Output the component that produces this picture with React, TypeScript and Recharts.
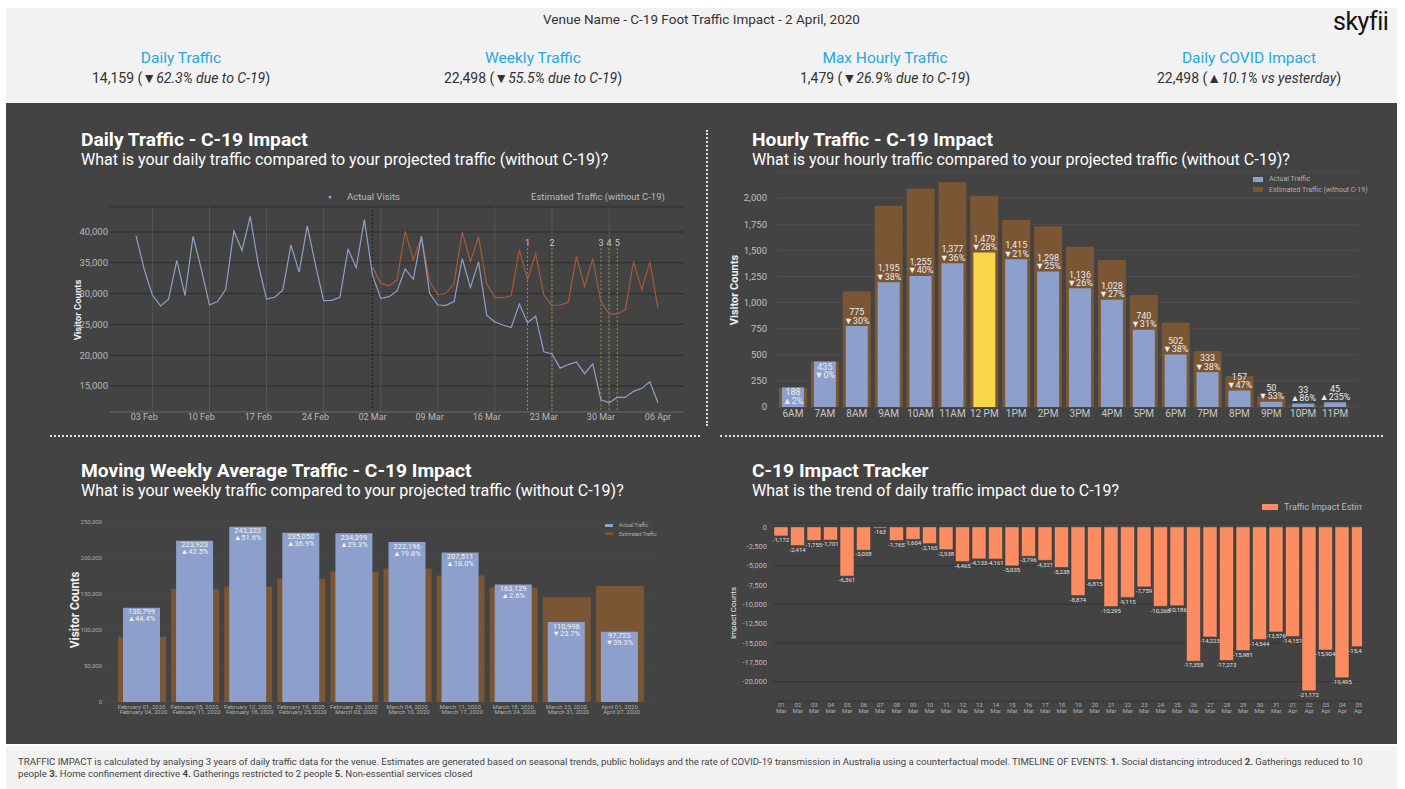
import { Bar, BarChart, CartesianGrid, Cell, LabelList, Legend, Line, LineChart, ReferenceLine, XAxis, YAxis } from "recharts"

// ---- daily traffic (line chart) ----
const days = [
  "02 Feb", "03 Feb", "04 Feb", "05 Feb", "06 Feb", "07 Feb", "08 Feb", "09 Feb", "10 Feb", "11 Feb",
  "12 Feb", "13 Feb", "14 Feb", "15 Feb", "16 Feb", "17 Feb", "18 Feb", "19 Feb", "20 Feb", "21 Feb",
  "22 Feb", "23 Feb", "24 Feb", "25 Feb", "26 Feb", "27 Feb", "28 Feb", "29 Feb", "01 Mar", "02 Mar",
  "03 Mar", "04 Mar", "05 Mar", "06 Mar", "07 Mar", "08 Mar", "09 Mar", "10 Mar", "11 Mar", "12 Mar",
  "13 Mar", "14 Mar", "15 Mar", "16 Mar", "17 Mar", "18 Mar", "19 Mar", "20 Mar", "21 Mar", "22 Mar",
  "23 Mar", "24 Mar", "25 Mar", "26 Mar", "27 Mar", "28 Mar", "29 Mar", "30 Mar", "31 Mar", "01 Apr",
  "02 Apr", "03 Apr", "04 Apr", "05 Apr", "06 Apr",
]
const actualVisits = [
  39400, 34000, 29800, 28000, 29100, 35400, 29700, 39300, 34000, 28150,
  28700, 30700, 40200, 37000, 42550, 34700, 29100, 29400, 30600, 37900,
  33500, 41000, 34700, 28850, 28900, 29400, 37200, 34200, 42000, 33000,
  29200, 29500, 30400, 34000, 32300, 39300, 30050, 28150, 28100, 28700,
  35700, 31000, 35150, 26500, 25400, 24900, 24500, 28300, 25270, 26360,
  20550, 20200, 17900, 18480, 18900, 17000, 18600, 12770, 12280, 13150,
  13150, 14130, 14620, 15700, 12280,
]
const estimatedVisits: (number | null)[] = [
  null, null, null, null, null, null, null, null, null, null,
  null, null, null, null, null, null, null, null, null, null,
  null, null, null, null, null, null, null, null, null, 34300,
  31700, 31250, 32200, 40100, 35500, 39200, 31950, 29800, 30050, 31600,
  40000, 35200, 39200, 31600, 29350, 29350, 29650, 37100, 32300, 36450,
  29800, 28050, 28150, 28600, 36050, 31150, 35700, 28700, 26700, 26700,
  27350, 35200, 30700, 35150, 27700,
]
const dailyTicks = ["03 Feb", "10 Feb", "17 Feb", "24 Feb", "02 Mar", "09 Mar", "16 Mar", "23 Mar", "30 Mar", "06 Apr"]
const dailyGridDays = ["04 Feb", "11 Feb", "18 Feb", "25 Feb", "03 Mar", "10 Mar", "17 Mar", "24 Mar", "31 Mar"]
const dailyYTicks = [15000, 20000, 25000, 30000, 35000, 40000]
const eventDays = ["21 Mar", "24 Mar", "30 Mar", "31 Mar", "01 Apr"]
const eventLabels = ["1", "2", "3", "4", "5"]

// ---- hourly traffic ----
const hours = ["6AM", "7AM", "8AM", "9AM", "10AM", "11AM", "12 PM", "1PM", "2PM", "3PM", "4PM", "5PM", "6PM", "7PM", "8PM", "9PM", "10PM", "11PM"]
const hourlyActual = [188, 435, 775, 1195, 1255, 1377, 1479, 1415, 1298, 1136, 1028, 740, 502, 333, 157, 50, 33, 45]
const hourlyEstimated = [184, 436, 1107, 1927, 2092, 2152, 2023, 1791, 1731, 1535, 1408, 1072, 810, 537, 296, 106, 18, 13]
const hourlyChange = ["▲2%", "▼0%", "▼30%", "▼38%", "▼40%", "▼36%", "▼28%", "▼21%", "▼25%", "▼26%", "▼27%", "▼31%", "▼38%", "▼38%", "▼47%", "▼53%", "▲86%", "▲235%"]
const hourlyYTicks = [0, 250, 500, 750, 1000, 1250, 1500, 1750, 2000]

// ---- weekly traffic ----
const weekStarts = ["February 01, 2020", "February 05, 2020", "February 12, 2020", "February 19, 2020", "February 26, 2020", "March 04, 2020", "March 11, 2020", "March 18, 2020", "March 25, 2020", "April 01, 2020"]
const weekEnds = ["February 04, 2020", "February 11, 2020", "February 18, 2020", "February 25, 2020", "March 03, 2020", "March 10, 2020", "March 17, 2020", "March 24, 2020", "March 31, 2020", "April 07, 2020"]
const weeklyActual = [130799, 223923, 243323, 235050, 234399, 222196, 207511, 163129, 110998, 97723]
const weeklyEstimated = [90580, 157140, 160500, 171700, 181280, 185470, 175860, 159000, 145480, 161000]
const weeklyChange = ["▲44.4%", "▲42.5%", "▲51.6%", "▲36.9%", "▲29.3%", "▲19.8%", "▲18.0%", "▲2.6%", "▼23.7%", "▼39.3%"]
const weeklyYTicks = [0, 50000, 100000, 150000, 200000, 250000]

// ---- impact tracker ----
const impactDays = [
  "01 Mar", "02 Mar", "03 Mar", "04 Mar", "05 Mar", "06 Mar", "07 Mar", "08 Mar", "09 Mar", "10 Mar",
  "11 Mar", "12 Mar", "13 Mar", "14 Mar", "15 Mar", "16 Mar", "17 Mar", "18 Mar", "19 Mar", "20 Mar",
  "21 Mar", "22 Mar", "23 Mar", "24 Mar", "25 Mar", "26 Mar", "27 Mar", "28 Mar", "29 Mar", "30 Mar",
  "31 Mar", "01 Apr", "02 Apr", "03 Apr", "04 Apr", "05 Apr",
]
const impactValues = [
  -1172, -2414, -1755, -1701, -6361, -3008, -163, -1765, -1604, -2165,
  -2938, -4465, -4133, -4161, -5035, -3796, -4321, -5238, -8874, -6815,
  -10295, -9115, -7759, -10268, -10186, -17358, -14223, -17273, -15981, -14544,
  -13576, -14151, -21172, -15904, -19495, -15475,
]
const impactYTicks = [0, -2500, -5000, -7500, -10000, -12500, -15000, -17500, -20000]

const BLUE = "#8da0cb"
const BROWN = "#7a5634"
const ORANGE = "#fc8d62"
const YELLOW = "#f8d64c"
const SIENNA = "#a55a38"
const PANEL = "#434343"

const fmt = (v: number) => v.toLocaleString("en-US")

function DayTick(props: any) {
  const { x, y, payload } = props
  if (!dailyTicks.includes(payload.value)) return <g />
  return <text x={x} y={y + 8} textAnchor="middle" fill="#b8b8b8" fontSize={9}>{payload.value}</text>
}

function DailyLegend(props: any) {
  const items = props.payload || []
  const act = items.find((p: any) => p.dataKey === "actual")
  const est = items.find((p: any) => p.dataKey === "estimated")
  return (
    <div style={{ position: "relative", width: 400, height: 12, fontSize: 9.5, color: "#b8b8b8" }}>
      {act && (
        <div style={{ position: "absolute", left: 0, top: 0, display: "flex", alignItems: "center", whiteSpace: "nowrap" }}>
          <svg width={22} height={10}><line x1={0} y1={5} x2={20} y2={5} stroke="#3b4157" strokeWidth={1.2} /><circle cx={10} cy={5} r={1.5} fill={act.color} /></svg>
          <span style={{ marginLeft: 5 }}>{act.value}</span>
        </div>
      )}
      {est && (
        <div style={{ position: "absolute", left: 182, top: 0, display: "flex", alignItems: "center", whiteSpace: "nowrap" }}>
          <svg width={22} height={10}><line x1={0} y1={5} x2={18} y2={5} stroke="#5a3a2c" strokeWidth={1.2} /></svg>
          <span style={{ marginLeft: 7 }}>{est.value}</span>
        </div>
      )}
    </div>
  )
}

function DailyChart() {
  const data = days.map((d, i) => ({ day: d, actual: actualVisits[i], estimated: estimatedVisits[i] }))
  return (
    <LineChart width={640} height={250} data={data} margin={{ top: 27, right: 16, bottom: 0, left: 0 }}>
      <CartesianGrid vertical={false} stroke="#2c2c2c" />
      <XAxis dataKey="day" interval={0} tick={<DayTick />} tickSize={0} tickMargin={0} axisLine={{ stroke: "#777" }} height={18} padding={{ left: 26, right: 26 }} />
      <YAxis domain={[10780, 44060]} ticks={dailyYTicks} width={50} tickSize={0} tickMargin={2} tickFormatter={fmt} tick={{ fill: "#b8b8b8", fontSize: 9.5 }} axisLine={false} />
      {dailyGridDays.map((d) => (
        <ReferenceLine key={d} x={d} stroke="#555" strokeWidth={1} />
      ))}
      <ReferenceLine x="02 Mar" stroke="#222" strokeDasharray="2 2" />
      {eventDays.map((d, i) => (
        <ReferenceLine
          key={"ev" + d}
          segment={[{ x: d, y: 37400 }, { x: d, y: 10780 }]}
          stroke="#8f8f3c"
          strokeDasharray="2 2"
          label={{ value: eventLabels[i], position: "top", offset: 2, fill: "#c8c8c8", fontSize: 9 }}
        />
      ))}
      <Legend layout="vertical" align="center" verticalAlign="middle" content={(p: any) => <DailyLegend payload={p.payload} />} wrapperStyle={{ left: 260, top: 11, width: 400 }} />
      <Line dataKey="estimated" name="Estimated Traffic (without C-19)" stroke={SIENNA} strokeWidth={1.2} dot={false} isAnimationActive={false} />
      <Line dataKey="actual" name="Actual Visits" stroke={BLUE} strokeWidth={1.2} dot={false} isAnimationActive={false} />
    </LineChart>
  )
}

function HourTick(props: any) {
  const { x, y, payload } = props
  return <text x={x} y={y + 10} textAnchor="middle" fill="#c8c8c8" fontSize={10}>{payload.value}</text>
}

function HourLabel(props: any) {
  const { x, y, width, height, index } = props
  const act = hourlyActual[index]
  const est = hourlyEstimated[index]
  const top = Math.min(y, y + height)
  const h = Math.abs(height)
  const estTop = top + h - (h * est) / act
  const inside = h > 18 && top - estTop < 8
  const b1 = inside ? top + 8 : top - 10.8
  return (
    <g>
      <text x={x + width / 2} y={b1} textAnchor="middle" fill="#ececec" fontSize={9}>{fmt(act)}</text>
      <text x={x + width / 2} y={b1 + 8.3} textAnchor="middle" fill="#ececec" fontSize={9}>{hourlyChange[index]}</text>
    </g>
  )
}

function BarLegend(props: any) {
  const items = [...(props.payload || [])]
  items.sort((a: any, b: any) => (a.dataKey === "actual" ? -1 : 1) - (b.dataKey === "actual" ? -1 : 1))
  const size = props.size || 7
  return (
    <div style={{ fontSize: size, color: "#b0b0b0", lineHeight: `${size + 3.5}px` }}>
      {items.map((p: any) => (
        <div key={p.dataKey} style={{ display: "flex", alignItems: "center", whiteSpace: "nowrap" }}>
          <span style={{ display: "inline-block", width: size + 3, height: size - 2, background: p.color, marginRight: 6 }} />
          {p.value}
        </div>
      ))}
    </div>
  )
}

function HourlyChart() {
  const data = hours.map((h, i) => ({ hour: h, actual: hourlyActual[i], estimated: hourlyEstimated[i] }))
  return (
    <BarChart width={660} height={265} data={data} margin={{ top: 7, right: 22, bottom: 0, left: 0 }}>
      <CartesianGrid vertical={false} stroke="#4f4f4f" />
      <XAxis dataKey="hour" interval={0} tick={<HourTick />} tickSize={0} tickMargin={0} axisLine={false} height={23} padding={{ left: 0, right: 7 }} />
      <XAxis xAxisId="act" dataKey="hour" hide padding={{ left: 0, right: 7 }} />
      <YAxis domain={[0, 2250]} ticks={hourlyYTicks} width={57} tickSize={0} tickMargin={10} tickFormatter={fmt} tick={{ fill: "#c0c0c0", fontSize: 9.5 }} axisLine={false} />
      <Legend layout="vertical" align="center" verticalAlign="middle" content={(p: any) => <BarLegend payload={p.payload} size={7} />} wrapperStyle={{ left: 533, top: 9 }} />
      <Bar dataKey="estimated" name="Estimated Traffic (without C-19)" fill={BROWN} barSize={28} isAnimationActive={false} />
      <Bar xAxisId="act" dataKey="actual" name="Actual Traffic" fill={BLUE} barSize={22} isAnimationActive={false}>
        {hours.map((h) => (
          <Cell key={h} fill={h === "12 PM" ? YELLOW : BLUE} />
        ))}
        <LabelList dataKey="actual" content={<HourLabel />} />
      </Bar>
    </BarChart>
  )
}

function WeekTick(props: any) {
  const { x, y, payload } = props
  const i = weekStarts.indexOf(payload.value)
  return (
    <g>
      <text x={x} y={y + 6.8} textAnchor="middle" fill="#b0b0b0" fontSize={6}>{weekStarts[i]}</text>
      <text x={x + 2} y={y + 11.8} textAnchor="middle" fill="#b0b0b0" fontSize={6}>{weekEnds[i]}</text>
    </g>
  )
}

function WeekLabel(props: any) {
  const { x, y, width, height, index } = props
  const top = Math.min(y, y + height)
  return (
    <g>
      <text x={x + width / 2} y={top + 6.6} textAnchor="middle" fill="#f2f2f2" fontSize={7.5}>{fmt(weeklyActual[index])}</text>
      <text x={x + width / 2} y={top + 13.6} textAnchor="middle" fill="#f2f2f2" fontSize={7.5}>{weeklyChange[index]}</text>
    </g>
  )
}

function WeeklyChart() {
  const data = weekStarts.map((w, i) => ({ week: w, actual: weeklyActual[i], estimated: weeklyEstimated[i] }))
  return (
    <BarChart width={640} height={225} data={data} margin={{ top: 17, right: 42, bottom: 0, left: 0 }}>
      <CartesianGrid vertical={false} stroke="#4b4b4b" />
      <XAxis dataKey="week" interval={0} tick={<WeekTick />} tickSize={0} tickMargin={0} axisLine={false} height={28} padding={{ left: 12, right: 12 }} />
      <XAxis xAxisId="act" dataKey="week" hide padding={{ left: 12, right: 12 }} />
      <YAxis domain={[0, 250000]} ticks={weeklyYTicks} width={43} tickSize={0} tickMargin={1} tickFormatter={fmt} tick={{ fill: "#a8a8a8", fontSize: 6 }} axisLine={false} />
      <Legend layout="vertical" align="center" verticalAlign="middle" content={(p: any) => <BarLegend payload={p.payload} size={5} />} wrapperStyle={{ left: 545, top: 16 }} />
      <Bar dataKey="estimated" name="Estimated Traffic" fill={BROWN} barSize={48} isAnimationActive={false} />
      <Bar xAxisId="act" dataKey="actual" name="Actual Traffic" fill={BLUE} barSize={37} isAnimationActive={false}>
        <LabelList dataKey="actual" content={<WeekLabel />} />
      </Bar>
    </BarChart>
  )
}

function ImpactTick(props: any) {
  const { x, y, payload } = props
  const [d, m] = String(payload.value).split(" ")
  return (
    <g>
      <text x={x} y={y + 5.7} textAnchor="middle" fill="#b0b0b0" fontSize={6}>{d}</text>
      <text x={x} y={y + 11.7} textAnchor="middle" fill="#b0b0b0" fontSize={6}>{m}</text>
    </g>
  )
}

function ImpactLabel(props: any) {
  const { x, y, width, height, value } = props
  const bottom = Math.max(y, y + height)
  return <text x={x + width / 2} y={bottom + 6.2} textAnchor="middle" fill="#e0e0e0" fontSize={6}>{fmt(value)}</text>
}

function ImpactChart() {
  const data = impactDays.map((d, i) => ({ day: d, impact: impactValues[i] }))
  return (
    <BarChart width={660} height={225} data={data} margin={{ top: 23, right: 13, bottom: 0, left: 0 }}>
      <CartesianGrid vertical={false} stroke="#363636" />
      <XAxis dataKey="day" interval={0} tick={<ImpactTick />} tickSize={0} tickMargin={0} axisLine={false} height={24} />
      <YAxis domain={[-22500, 500]} ticks={impactYTicks} width={53} tickSize={0} tickMargin={6} tickFormatter={fmt} tick={{ fill: "#b8b8b8", fontSize: 7.5 }} axisLine={false} />
      <Legend layout="vertical" align="center" verticalAlign="middle" content={(p: any) => (
        <div style={{ display: "flex", alignItems: "center", whiteSpace: "nowrap", fontSize: 9, color: "#b8b8b8" }}>
          {(p.payload || []).map((it: any) => (
            <span key={it.dataKey} style={{ display: "flex", alignItems: "center" }}>
              <span style={{ display: "inline-block", width: 16, height: 6, background: it.color, marginRight: 6 }} />
              {it.value}
            </span>
          ))}
        </div>
      )} wrapperStyle={{ left: 542, top: 2 }} />
      <Bar dataKey="impact" name="Traffic Impact Estimate" fill={ORANGE} stroke="#3a3a3a" strokeWidth={0.5} barSize={14} isAnimationActive={false}>
        <LabelList dataKey="impact" content={<ImpactLabel />} />
      </Bar>
    </BarChart>
  )
}

const kpis = [
  { title: "Daily Traffic", value: "14,159", arrow: "▼", note: "62.3% due to C-19", x: 175 },
  { title: "Weekly Traffic", value: "22,498", arrow: "▼", note: "55.5% due to C-19", x: 527 },
  { title: "Max Hourly Traffic", value: "1,479", arrow: "▼", note: "26.9% due to C-19", x: 879 },
  { title: "Daily COVID Impact", value: "22,498", arrow: "▲", note: "10.1% vs yesterday", x: 1243 },
]

const abs = (left: number, top: number, extra: any = {}) => ({ position: "absolute" as const, left, top, ...extra })

function VLabel({ x, y, text, size, bold }: { x: number; y: number; text: string; size: number; bold?: boolean }) {
  return (
    <div style={{ position: "absolute", left: x, top: y, transform: "translate(-50%, -50%) rotate(-90deg)", whiteSpace: "nowrap", fontSize: size, fontWeight: bold ? 700 : 400, color: "#f0f0f0" }}>
      {text}
    </div>
  )
}

function Title({ x, y, title, sub }: { x: number; y: number; title: string; sub: string }) {
  return (
    <>
      <div style={abs(x, y, { fontSize: 19.2, fontWeight: 700, color: "#fff", lineHeight: "22px", whiteSpace: "nowrap" })}>{title}</div>
      <div style={abs(x, y + 22, { fontSize: 16, color: "#fff", lineHeight: "18px", whiteSpace: "nowrap" })}>{sub}</div>
    </>
  )
}

export default function App() {
  return (
    <div style={{ position: "absolute", left: 0, top: 0, width: 1405, height: 789, background: "#fff", overflow: "hidden", fontFamily: "Roboto, 'Noto Sans', sans-serif" }}>
      {/* header */}
      <div style={abs(6, 8, { width: 1391, height: 95, background: "#f2f2f2" })}>
        <div style={abs(0, 3, { width: "100%", textAlign: "center", fontSize: 13.5, lineHeight: "16px", color: "#333" })}>
          Venue Name - C-19 Foot Traffic Impact - 2 April, 2020
        </div>
        <div style={abs(1327, 0, { fontSize: 25, lineHeight: "28px", color: "#111", letterSpacing: -0.5 })}>skyfii</div>
        {kpis.map((k) => (
          <div key={k.title} style={abs(k.x - 150, 40, { width: 300, textAlign: "center" })}>
            <div style={{ fontSize: 15.5, lineHeight: "20px", color: "#28a8e0" }}>{k.title}</div>
            <div style={{ fontSize: 14, lineHeight: "20px", color: "#333" }}>
              {k.value} ({k.arrow}<i>{k.note}</i>)
            </div>
          </div>
        ))}
      </div>

      {/* dark panel */}
      <div style={abs(6, 103, { width: 1391, height: 641, background: PANEL })} />

      <Title x={81} y={129} title="Daily Traffic - C-19 Impact" sub="What is your daily traffic compared to your projected traffic (without C-19)?" />
      <Title x={752} y={129} title="Hourly Traffic - C-19 Impact" sub="What is your hourly traffic compared to your projected traffic (without C-19)?" />
      <Title x={81} y={460} title="Moving Weekly Average Traffic - C-19 Impact" sub="What is your weekly traffic compared to your projected traffic (without C-19)?" />
      <Title x={752} y={460} title="C-19 Impact Tracker" sub="What is the trend of daily traffic impact due to C-19?" />

      {/* dotted dividers */}
      <div style={abs(706, 130, { height: 296, borderLeft: "2px dotted #e0e0e0" })} />
      <div style={abs(50, 435, { width: 650, borderTop: "2px dotted #e0e0e0" })} />
      <div style={abs(720, 435, { width: 663, borderTop: "2px dotted #e0e0e0" })} />

      <div style={abs(60, 180)}><DailyChart /></div>
      <div style={abs(720, 165)}><HourlyChart /></div>
      <div style={abs(60, 505)}><WeeklyChart /></div>
      <div style={abs(720, 500, { width: 642, height: 225, overflow: "hidden" })}><ImpactChart /></div>

      <VLabel x={77} y={310} text="Visitor Counts" size={9.5} bold />
      <VLabel x={734} y={290} text="Visitor Counts" size={11} bold />
      <VLabel x={75} y={610} text="Visitor Counts" size={12} bold />
      <VLabel x={733} y={613} text="Impact Counts" size={8} />

      {/* footer */}
      <div style={abs(6, 746, { width: 1391, height: 43, background: "#f2f2f2" })}>
        <div style={abs(12, 10, { width: 1375, fontSize: 9.6, lineHeight: "12px", color: "#444", whiteSpace: "nowrap" })}>
          TRAFFIC IMPACT is calculated by analysing 3 years of daily traffic data for the venue. Estimates are generated based on seasonal trends, public holidays and the rate of COVID-19 transmission in Australia using a counterfactual model. TIMELINE OF EVENTS: <b>1.</b> Social distancing introduced <b>2.</b> Gatherings reduced to 10
          <br />
          people <b>3.</b> Home confinement directive <b>4.</b> Gatherings restricted to 2 people <b>5.</b> Non-essential services closed
        </div>
      </div>
    </div>
  )
}
